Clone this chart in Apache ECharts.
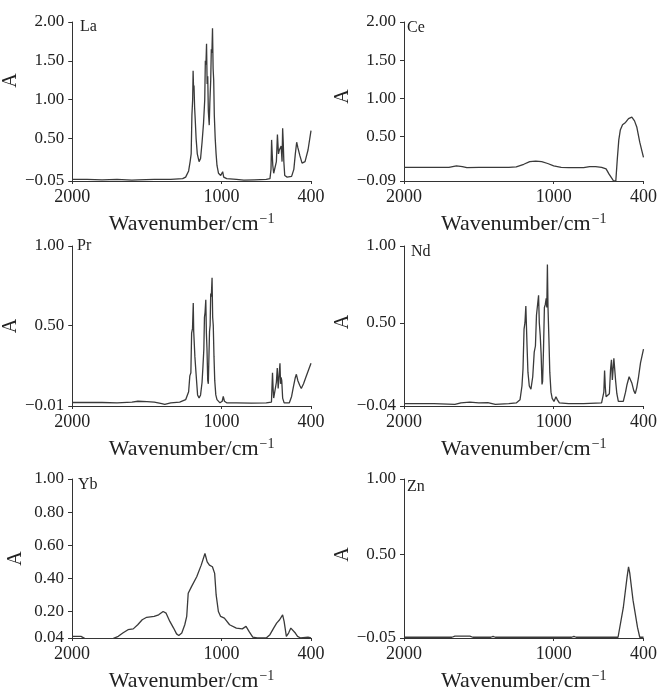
<!DOCTYPE html>
<html>
<head>
<meta charset="utf-8">
<script src="https://cdn.jsdelivr.net/npm/echarts@6/dist/echarts.min.js"></script>
<style>
  html, body { margin: 0; padding: 0; background: #fff; }
  #chart { width: 660px; height: 693px; }
</style>
</head>
<body>
<div id="chart"></div>
<script>
// 各样品的红外光谱 [波数, 吸光度]
const laSpectrum = [
  [2000, -0.03], [1900, -0.03], [1800, -0.035], [1700, -0.03], [1600, -0.04], [1560, -0.035],
  [1450, -0.03], [1340, -0.03], [1260, -0.02], [1240, 0.0], [1220, 0.08], [1210, 0.2], [1203, 0.3],
  [1198, 0.8], [1193, 1.0], [1190, 1.37], [1187, 1.15], [1184, 1.18], [1180, 0.9], [1176, 0.75],
  [1170, 0.5], [1162, 0.3], [1150, 0.2], [1140, 0.24], [1130, 0.45], [1120, 0.7], [1112, 1.0],
  [1108, 1.5], [1104, 1.45], [1100, 1.72], [1096, 1.2], [1092, 1.3], [1088, 0.85], [1082, 0.67],
  [1078, 0.95], [1072, 1.25], [1068, 1.65], [1064, 1.6], [1060, 1.92], [1056, 1.4], [1052, 1.25],
  [1048, 0.8], [1042, 0.5], [1036, 0.3], [1030, 0.15], [1020, 0.05], [1005, 0.02], [992, 0.07],
  [985, 0.0], [965, -0.02], [900, -0.03], [850, -0.04], [780, -0.035], [700, -0.03], [675, -0.02],
  [668, 0.1], [664, 0.48], [660, 0.3], [656, 0.15], [650, 0.05], [640, 0.04], [632, 0.2], [625, 0.55],
  [618, 0.3], [612, 0.35], [606, 0.33], [600, 0.4], [594, 0.2], [590, 0.63], [586, 0.45], [582, 0.2],
  [576, 0.02], [560, 0.0], [530, 0.01], [515, 0.1], [505, 0.3], [496, 0.45], [488, 0.38], [475, 0.28],
  [460, 0.18], [450, 0.16], [440, 0.2], [420, 0.35], [400, 0.6]
];
const ceSpectrum = [
  [2000, 0.09], [1800, 0.09], [1700, 0.09], [1650, 0.11], [1610, 0.1], [1580, 0.085], [1500, 0.09],
  [1400, 0.09], [1300, 0.09], [1250, 0.095], [1200, 0.13], [1160, 0.165], [1120, 0.17], [1080, 0.165],
  [1040, 0.14], [1000, 0.11], [950, 0.09], [900, 0.085], [800, 0.085], [760, 0.1], [720, 0.1],
  [680, 0.09], [650, 0.07], [630, 0.0], [610, -0.06], [600, -0.09], [585, -0.09], [575, 0.2],
  [565, 0.45], [555, 0.58], [540, 0.65], [520, 0.68], [500, 0.73], [478, 0.75], [460, 0.7],
  [445, 0.62], [425, 0.42], [410, 0.3], [400, 0.22]
];
const prSpectrum = [
  [2000, 0.012], [1800, 0.012], [1700, 0.01], [1600, 0.015], [1560, 0.02], [1500, 0.018], [1450, 0.015],
  [1400, 0.005], [1380, 0.0], [1340, 0.01], [1280, 0.015], [1240, 0.03], [1220, 0.08], [1212, 0.18],
  [1205, 0.2], [1200, 0.45], [1194, 0.48], [1189, 0.64], [1186, 0.46], [1182, 0.45], [1178, 0.3],
  [1170, 0.19], [1160, 0.06], [1150, 0.04], [1140, 0.06], [1130, 0.14], [1124, 0.24], [1118, 0.35],
  [1114, 0.55], [1110, 0.58], [1105, 0.66], [1101, 0.45], [1097, 0.35], [1092, 0.15], [1088, 0.13],
  [1084, 0.3], [1080, 0.46], [1076, 0.5], [1072, 0.7], [1068, 0.68], [1063, 0.8], [1059, 0.55],
  [1055, 0.5], [1050, 0.3], [1045, 0.15], [1038, 0.06], [1030, 0.03], [1010, 0.01], [995, 0.02],
  [988, 0.05], [980, 0.02], [965, 0.01], [900, 0.01], [800, 0.008], [700, 0.01], [665, 0.015],
  [658, 0.2], [654, 0.1], [650, 0.04], [642, 0.05], [632, 0.14], [626, 0.23], [620, 0.1], [614, 0.18],
  [608, 0.26], [604, 0.13], [600, 0.17], [596, 0.15], [590, 0.04], [580, 0.01], [545, 0.01],
  [530, 0.05], [518, 0.11], [505, 0.17], [498, 0.19], [488, 0.15], [475, 0.12], [465, 0.1],
  [450, 0.13], [435, 0.17], [400, 0.26]
];
const ndSpectrum = [
  [2000, -0.025], [1800, -0.025], [1660, -0.03], [1620, -0.02], [1560, -0.015], [1500, -0.02],
  [1440, -0.018], [1390, -0.03], [1300, -0.025], [1250, -0.02], [1225, 0.0], [1212, 0.09], [1205, 0.2],
  [1198, 0.46], [1192, 0.5], [1186, 0.61], [1182, 0.48], [1178, 0.35], [1172, 0.18], [1163, 0.09],
  [1152, 0.07], [1140, 0.15], [1130, 0.31], [1122, 0.35], [1115, 0.55], [1108, 0.56], [1101, 0.68],
  [1096, 0.5], [1090, 0.42], [1084, 0.3], [1078, 0.1], [1074, 0.12], [1068, 0.33], [1062, 0.6],
  [1056, 0.62], [1050, 0.66], [1046, 0.6], [1042, 0.88], [1038, 0.6], [1032, 0.4], [1026, 0.18],
  [1018, 0.05], [1010, 0.01], [998, -0.01], [985, 0.02], [975, 0.0], [962, -0.02], [900, -0.025],
  [800, -0.025], [680, -0.02], [665, 0.05], [660, 0.19], [655, 0.08], [650, 0.02], [640, 0.02],
  [628, 0.04], [620, 0.2], [614, 0.26], [608, 0.13], [602, 0.14], [598, 0.27], [592, 0.28],
  [586, 0.12], [578, 0.04], [568, -0.01], [535, -0.01], [520, 0.05], [510, 0.1], [496, 0.15],
  [488, 0.14], [478, 0.11], [465, 0.06], [455, 0.04], [445, 0.08], [433, 0.15], [420, 0.24], [400, 0.33]
];
const ybSpectrum = [
  [2000, 0.05], [1940, 0.05], [1910, 0.035], [1800, 0.034], [1730, 0.035], [1690, 0.05], [1660, 0.07],
  [1625, 0.09], [1590, 0.095], [1560, 0.12], [1530, 0.15], [1500, 0.165], [1450, 0.17], [1420, 0.18],
  [1390, 0.2], [1370, 0.19], [1345, 0.14], [1320, 0.1], [1300, 0.065], [1285, 0.055], [1265, 0.07],
  [1245, 0.12], [1232, 0.17], [1222, 0.31], [1200, 0.35], [1165, 0.41], [1135, 0.48], [1110, 0.55],
  [1095, 0.5], [1080, 0.48], [1060, 0.47], [1045, 0.43], [1035, 0.3], [1020, 0.2], [1005, 0.17],
  [980, 0.16], [945, 0.12], [900, 0.1], [860, 0.095], [835, 0.11], [815, 0.08], [790, 0.045],
  [760, 0.04], [700, 0.04], [675, 0.06], [650, 0.1], [630, 0.13], [610, 0.15], [590, 0.18],
  [580, 0.14], [565, 0.05], [550, 0.07], [535, 0.1], [522, 0.11], [505, 0.07], [490, 0.05],
  [470, 0.04], [420, 0.045], [410, 0.05], [400, 0.04]
];
const znSpectrum = [
  [2000, -0.045], [1680, -0.045], [1660, -0.038], [1560, -0.038], [1540, -0.045], [1420, -0.045],
  [1405, -0.04], [1390, -0.045], [1120, -0.045], [1108, -0.04], [1095, -0.045], [880, -0.045],
  [865, -0.04], [850, -0.045], [570, -0.045], [535, 0.15], [510, 0.35], [500, 0.42], [492, 0.38],
  [470, 0.2], [440, 0.02], [425, -0.045], [400, -0.045]
];

// 坐标轴刻度
const wavenumberTicks = [2000, 1000, 400];
const laTicks = [-0.05, 0.5, 1.0, 1.5, 2.0];
const ceTicks = [-0.09, 0.5, 1.0, 1.5, 2.0];
const prTicks = [-0.01, 0.5, 1.0];
const ndTicks = [-0.04, 0.5, 1.0];
const ybTicks = [0.04, 0.2, 0.4, 0.6, 0.8, 1.0];
const znTicks = [-0.05, 0.5, 1.0];

const samples = ['La', 'Ce', 'Pr', 'Nd', 'Yb', 'Zn'];
const spectra = [laSpectrum, ceSpectrum, prSpectrum, ndSpectrum, ybSpectrum, znSpectrum];
const yTicks = [laTicks, ceTicks, prTicks, ndTicks, ybTicks, znTicks];

const serif = 'Liberation Serif, Times New Roman, serif';
const ink = '#222';

// 面板位置（3 行 2 列）
const rowTop = [22, 246, 479];
const rowHeight = [159, 160, 160];
const colLeft = [72, 404];
const colWidth = [239, 241];
const titlePos = [[80, 19], [407, 20], [77, 238], [411, 244], [78, 477], [407, 479]];
const namePad = [[0, 0, 0, 42], [0, 0, 0, 10], [0, 0, 0, 0], [0, 0, 0, 8], [0, 0, 0, 0], [0, 0, 0, 8]];

const fmtY = v => (v < 0 ? '\u2212' : '') + Math.abs(v).toFixed(2);

const grids = [], xAxes = [], yAxes = [], series = [], titles = [];
samples.forEach((name, i) => {
  const r = Math.floor(i / 2), c = i % 2;
  grids.push({ left: colLeft[c], top: rowTop[r], width: colWidth[c], height: rowHeight[r] });
  xAxes.push({
    gridIndex: i, type: 'value', min: 400, max: 2000, inverse: true,
    name: 'Wavenumber/cm{sup|\u22121}', nameLocation: 'middle', nameGap: 31,
    nameTextStyle: {
      fontFamily: serif, fontSize: 22, color: ink,
      rich: { sup: { fontFamily: serif, fontSize: 14, color: ink, verticalAlign: 'top', padding: [0, 0, 10, 1] } }
    },
    axisLine: { onZero: false, lineStyle: { color: '#333', width: 1 } },
    axisTick: { customValues: wavenumberTicks, length: 3, lineStyle: { color: '#333' } },
    axisLabel: {
      customValues: wavenumberTicks, margin: 7, fontFamily: serif, fontSize: 18, color: ink,
      formatter: v => String(v)
    },
    splitLine: { show: false }
  });
  const ticks = yTicks[i];
  yAxes.push({
    gridIndex: i, type: 'value', min: ticks[0], max: ticks[ticks.length - 1],
    name: 'A', nameLocation: 'middle', nameGap: 46, nameRotate: 90,
    nameTextStyle: { fontFamily: serif, fontSize: 20, color: ink, padding: namePad[i] },
    axisLine: { show: true, onZero: false, lineStyle: { color: '#333', width: 1 } },
    axisTick: { show: true, customValues: ticks, length: 4, lineStyle: { color: '#333' } },
    axisLabel: { customValues: ticks, margin: 8, fontFamily: serif, fontSize: 17, color: ink, formatter: fmtY },
    splitLine: { show: false }
  });
  series.push({
    type: 'line', xAxisIndex: i, yAxisIndex: i, data: spectra[i],
    showSymbol: false, lineStyle: { color: '#3a3a3a', width: 1.3 }, silent: true
  });
  titles.push({
    text: name, left: titlePos[i][0], top: titlePos[i][1], padding: 0,
    textStyle: { fontFamily: serif, fontSize: 16, fontWeight: 'normal', color: ink }
  });
});

const chart = echarts.init(document.getElementById('chart'), null, { renderer: 'canvas' });
chart.setOption({
  animation: false,
  backgroundColor: '#fff',
  title: titles,
  grid: grids,
  xAxis: xAxes,
  yAxis: yAxes,
  series: series
});
</script>
</body>
</html>
